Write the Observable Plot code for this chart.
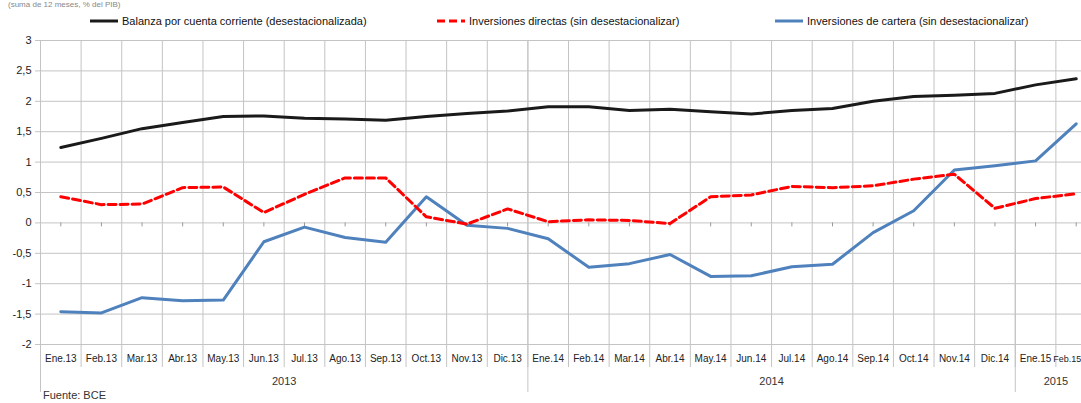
<!DOCTYPE html>
<html>
<head>
<meta charset="utf-8">
<script src="https://cdn.jsdelivr.net/npm/d3@7"></script>
<script src="https://cdn.jsdelivr.net/npm/@observablehq/plot@0.6"></script>
<style>
html, body { margin:0; padding:0; background:#fff; width:1081px; height:403px; overflow:hidden; }
#wrap { position:relative; width:1081px; height:403px; overflow:hidden; font-family:"Liberation Sans", Arial, sans-serif; color:#222; }
#chart { position:absolute; left:0; top:0; width:1100px; }
#chart svg { max-width:none !important; }
.top { position:absolute; left:8px; top:0px; font-size:8px; line-height:9px; color:#888; white-space:nowrap; }
.leg { position:absolute; top:15px; font-size:11px; display:flex; align-items:center; white-space:nowrap; color:#111; }
.leg svg { margin-right:4px; }
.src { position:absolute; left:43px; top:389px; font-size:11px; line-height:12px; color:#333; white-space:nowrap; }
</style>
</head>
<body>
<div id="wrap">
  <div class="top">(suma de 12 meses, % del PIB)</div>
  <div id="legend"></div>
  <div id="chart"></div>
  <div class="src">Fuente: BCE</div>
</div>
<script>
const categories = ["Ene.13","Feb.13","Mar.13","Abr.13","May.13","Jun.13","Jul.13","Ago.13","Sep.13","Oct.13","Nov.13","Dic.13",
  "Ene.14","Feb.14","Mar.14","Abr.14","May.14","Jun.14","Jul.14","Ago.14","Sep.14","Oct.14","Nov.14","Dic.14",
  "Ene.15","Feb.15"];
const years = ["2013","2014","2015"];
const yearStart = [0, 12, 24];
const yearEnd = [12, 24, 26];

const balanza = [1.24,1.39,1.55,1.65,1.75,1.76,1.72,1.71,1.69,1.75,1.80,1.84,1.91,1.91,1.85,1.87,1.83,1.79,1.85,1.88,2.00,2.08,2.10,2.13,2.27,2.37];
const directas = [0.43,0.30,0.31,0.58,0.59,0.17,0.47,0.74,0.74,0.10,-0.02,0.23,0.02,0.05,0.04,-0.01,0.43,0.46,0.60,0.58,0.61,0.72,0.80,0.24,0.40,0.48];
const cartera = [-1.46,-1.48,-1.23,-1.28,-1.27,-0.31,-0.07,-0.24,-0.32,0.43,-0.04,-0.09,-0.26,-0.73,-0.67,-0.52,-0.88,-0.87,-0.72,-0.68,-0.16,0.20,0.87,0.94,1.02,1.63];

const yTicks = [-2,-1.5,-1,-0.5,0,0.5,1,1.5,2,2.5,3];

const series = [
  {name:"Balanza por cuenta corriente (desestacionalizada)", values:balanza, color:"#1a1a1a", dash:null},
  {name:"Inversiones directas (sin desestacionalizar)", values:directas, color:"#ff0000", dash:"8,4"},
  {name:"Inversiones de cartera (sin desestacionalizar)", values:cartera, color:"#4f81bd", dash:null}
];

const rows = series.flatMap(s => s.values.map((v, i) => ({serie:s.name, i:i + 0.5, v})));
const centers = categories.map((c, i) => i + 0.5);
const bounds = d3.range(0, categories.length + 1);
const lastIdx = categories.length - 1;

// legend
const legendPos = [90, 437, 775];
const legend = document.getElementById("legend");
series.forEach((s, k) => {
  const d = document.createElement("div");
  d.className = "leg";
  d.style.left = legendPos[k] + "px";
  d.innerHTML = `<svg width="28" height="6"><line x1="0" y1="3" x2="28" y2="3" stroke="${s.color}" stroke-width="3" ${s.dash ? `stroke-dasharray="${s.dash}"` : ""}/></svg><span>${s.name}</span>`;
  legend.appendChild(d);
});

const plot = Plot.plot({
  width: 1100,
  height: 403,
  marginLeft: 40,
  marginRight: 4,
  marginTop: 40,
  marginBottom: 59,
  style: {fontFamily: "'Liberation Sans', Arial, sans-serif", background: "transparent", maxWidth: "none"},
  x: {type: "linear", domain: [0, categories.length], axis: null},
  y: {domain: [-2, 3], axis: null},
  marks: [
    Plot.ruleY(yTicks, {y: d => d, stroke: "#c4c4c4", strokeWidth: 1}),
    Plot.ruleX(bounds, {x: d => d, stroke: "#c4c4c4", strokeWidth: 1, insetBottom: -23}),
    Plot.ruleX(yearStart, {x: d => d, stroke: "#c4c4c4", strokeWidth: 1, insetBottom: -48}),
    Plot.ruleX(centers, {x: d => d, y1: 0, y2: 0, insetBottom: -4, stroke: "#9a9a9a"}),
    Plot.axisY(yTicks, {label: null, tickFormat: d => String(d).replace(".", ","), tickSize: 5, tickPadding: 4, fontSize: 11, stroke: "#c4c4c4", fill: "#222"}),
    Plot.text(categories.slice(0, lastIdx), {x: (d, i) => i + 0.5, text: d => d, frameAnchor: "bottom", dy: 17, fontSize: 10, fill: "#222"}),
    Plot.text([categories[lastIdx]], {x: () => lastIdx + 0.5, text: d => d, frameAnchor: "bottom", dy: 17, dx: 5, textAnchor: "end", fontSize: 9, fill: "#222"}),
    Plot.text(years, {x: (d, i) => (yearStart[i] + yearEnd[i]) / 2, text: d => d, frameAnchor: "bottom", dy: 40, fontSize: 11, fill: "#333"}),
    Plot.line(rows.filter(r => r.serie === series[2].name), {x: "i", y: "v", stroke: series[2].color, strokeWidth: 3}),
    Plot.line(rows.filter(r => r.serie === series[1].name), {x: "i", y: "v", stroke: series[1].color, strokeWidth: 3, strokeDasharray: series[1].dash}),
    Plot.line(rows.filter(r => r.serie === series[0].name), {x: "i", y: "v", stroke: series[0].color, strokeWidth: 3})
  ]
});
document.getElementById("chart").appendChild(plot);
</script>
</body>
</html>
